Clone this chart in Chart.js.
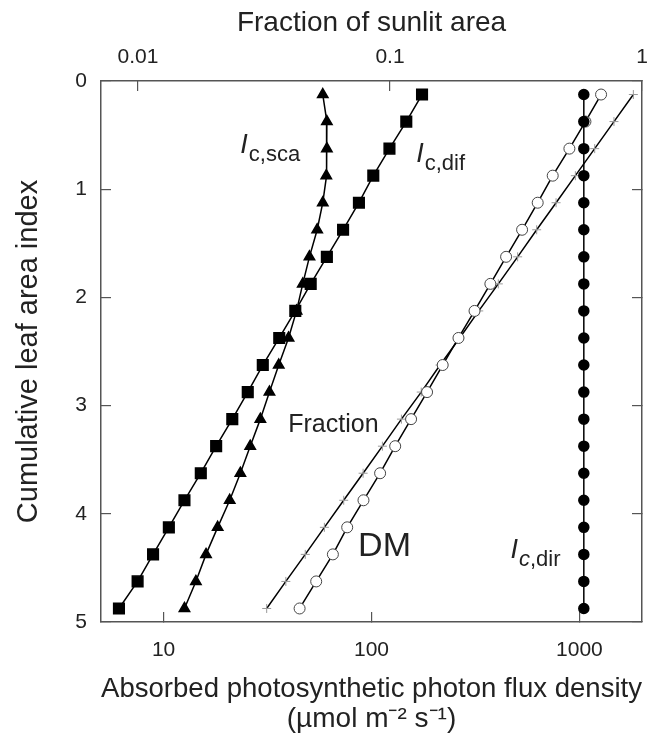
<!DOCTYPE html>
<html lang="en">
<head>
  <meta charset="UTF-8">
  <title>Cumulative leaf area index vs absorbed PPFD</title>
  <script src="https://cdn.jsdelivr.net/npm/chart.js"></script>
  <style>
    body {
      margin: 0;
      padding: 0;
      background-color: white;
    }
    #chart {
      display: block;
    }
  </style>
</head>
<body>
  <canvas id="chart" width="648" height="735"></canvas>

  <script>
    // cumulative leaf area index (y) of each layer
    const lai = [0.125, 0.375, 0.625, 0.875, 1.125, 1.375, 1.625, 1.875, 2.125, 2.375,
                 2.625, 2.875, 3.125, 3.375, 3.625, 3.875, 4.125, 4.375, 4.625, 4.875];

    // absorbed PPFD (umol m-2 s-1)
    const icDir = [1050, 1050, 1050, 1050, 1050, 1050, 1050, 1050, 1050, 1050,
                   1050, 1050, 1050, 1050, 1050, 1050, 1050, 1050, 1050, 1050];
    const dm    = [1271, 1069, 895, 744, 630, 530, 444, 373, 313, 262,
                   220, 185, 155, 130, 110, 91.5, 76.4, 65.2, 54.2, 45.1];
    const icDif = [175, 147, 122, 102, 87, 73, 61, 51, 43, 36,
                   30, 25.4, 21.4, 17.9, 15.1, 12.6, 10.6, 8.9, 7.5, 6.1];
    const icSca = [58.3, 61, 61, 60.6, 58.3, 54.8, 50.3, 46.7, 43.6, 39.9,
                   35.8, 32.3, 29.2, 26.1, 23.4, 20.8, 18.2, 16.0, 14.3, 12.6];

    // fraction of sunlit area
    const sunlit = [0.924, 0.774, 0.649, 0.544, 0.456, 0.382, 0.321, 0.269, 0.225, 0.189,
                    0.158, 0.133, 0.111, 0.0933, 0.0782, 0.0655, 0.0549, 0.0461, 0.0386, 0.0324];

    // axis ticks
    const bottomTicks = [10, 100, 1000];
    const bottomTickLabels = ['10', '100', '1000'];
    const topTicks = [0.01, 0.1, 1];
    const topTickLabels = ['0.01', '0.1', '1'];
    const laiTicks = [0, 1, 2, 3, 4, 5];

    // curve labels, placed in data units (bottom axis value, LAI)
    const curveLabels = [
      { name: 'I', sub: [['c', false], [',sca', false]], x: 23.4, y: 0.665 },
      { name: 'I', sub: [['c', false], [',dif', false]], x: 164, y: 0.75 },
      { name: 'I', sub: [['c', true], [',dir', false]], x: 466, y: 4.41 },
      { text: 'Fraction', size: 25, x: 65.6, y: 3.18 },
      { text: 'DM', size: 34, x: 115.5, y: 4.30 }
    ];

    function toPoints(xs) {
      return xs.map((v, i) => ({ x: v, y: lai[i] }));
    }

    Chart.defaults.font.family = "'Liberation Sans', Arial, sans-serif";
    Chart.defaults.color = '#222';

    const frameColor = '#555';

    // draw the curve names as text on top of the plot
    const labelPlugin = {
      id: 'curveLabels',
      afterDatasetsDraw(chart) {
        const ctx = chart.ctx;
        const xs = chart.scales.x;
        const ys = chart.scales.y;
        ctx.save();
        ctx.fillStyle = '#222';
        ctx.textBaseline = 'alphabetic';
        curveLabels.forEach(l => {
          const px = xs.getPixelForValue(l.x);
          const py = ys.getPixelForValue(l.y);
          if (l.text) {
            ctx.font = l.size + "px 'Liberation Sans', Arial, sans-serif";
            ctx.textAlign = 'center';
            ctx.textBaseline = 'middle';
            ctx.fillText(l.text, px, py);
            ctx.textBaseline = 'alphabetic';
            return;
          }
          ctx.textAlign = 'left';
          ctx.font = "italic 27px 'Liberation Sans', Arial, sans-serif";
          ctx.fillText(l.name, px, py);
          let cx = px + ctx.measureText(l.name).width + 1;
          l.sub.forEach(part => {
            ctx.font = (part[1] ? 'italic ' : '') + "22px 'Liberation Sans', Arial, sans-serif";
            ctx.fillText(part[0], cx, py + 8);
            cx += ctx.measureText(part[0]).width;
          });
        });
        ctx.restore();
      }
    };

    const gridOpts = {
      drawOnChartArea: false,
      drawTicks: true,
      tickLength: -10,
      color: frameColor,
      lineWidth: 1.2
    };
    const borderOpts = { display: true, color: frameColor, width: 1.5 };

    // fixed box sizes so the plot area sits where the original has it
    function fixHeight(h) {
      return s => {
        s.height = h;
        s.paddingLeft = 0;
        s.paddingRight = 0;
      };
    }
    function fixWidth(w) {
      return s => {
        s.width = w;
        s.paddingTop = 0;
        s.paddingBottom = 0;
      };
    }

    new Chart(document.getElementById('chart'), {
      type: 'scatter',
      data: {
        datasets: [
          {
            label: 'Ic,dir',
            data: toPoints(icDir),
            showLine: true,
            borderColor: '#000',
            borderWidth: 1.5,
            pointStyle: 'circle',
            pointRadius: 5,
            pointBackgroundColor: '#000',
            pointBorderColor: '#000',
            xAxisID: 'x',
            yAxisID: 'y'
          },
          {
            label: 'DM',
            data: toPoints(dm),
            showLine: true,
            borderColor: '#000',
            borderWidth: 1.5,
            pointStyle: 'circle',
            pointRadius: 5.5,
            pointBackgroundColor: '#fff',
            pointBorderColor: '#444',
            pointBorderWidth: 1,
            xAxisID: 'x',
            yAxisID: 'y'
          },
          {
            label: 'Fraction',
            data: toPoints(sunlit),
            showLine: true,
            borderColor: '#000',
            borderWidth: 1.5,
            pointStyle: 'cross',
            pointRadius: 4.5,
            pointBorderColor: '#999',
            pointBorderWidth: 1,
            xAxisID: 'xTop',
            yAxisID: 'y'
          },
          {
            label: 'Ic,dif',
            data: toPoints(icDif),
            showLine: true,
            borderColor: '#000',
            borderWidth: 1.5,
            pointStyle: 'rect',
            pointRadius: 7.5,
            pointBackgroundColor: '#000',
            pointBorderColor: '#000',
            xAxisID: 'x',
            yAxisID: 'y'
          },
          {
            label: 'Ic,sca',
            data: toPoints(icSca),
            showLine: true,
            borderColor: '#000',
            borderWidth: 1.5,
            pointStyle: 'triangle',
            pointRadius: 6,
            pointBackgroundColor: '#000',
            pointBorderColor: '#000',
            xAxisID: 'x',
            yAxisID: 'y'
          }
        ]
      },
      options: {
        responsive: false,
        animation: false,
        devicePixelRatio: 1,
        layout: { padding: 0, autoPadding: false },
        plugins: {
          legend: { display: false },
          tooltip: { enabled: false }
        },
        scales: {
          x: {
            type: 'logarithmic',
            position: 'bottom',
            min: 5,
            max: 2000,
            bounds: 'data',
            afterBuildTicks: s => { s.ticks = bottomTicks.map(v => ({ value: v })); },
            afterFit: fixHeight(113),
            grid: gridOpts,
            border: borderOpts,
            ticks: {
              font: { size: 21 },
              padding: 26,
              maxRotation: 0,
              autoSkip: false,
              callback: (v, i) => bottomTickLabels[i]
            },
            title: {
              display: true,
              text: ['Absorbed photosynthetic photon flux density', '(\u00b5mol m\u207b\u00b2 s\u207b\u00b9)'],
              font: { size: 28, lineHeight: 1.1 },
              padding: { top: 0, bottom: 0 }
            }
          },
          xTop: {
            type: 'logarithmic',
            position: 'top',
            min: 0.00713,
            max: 1,
            bounds: 'data',
            afterBuildTicks: s => { s.ticks = topTicks.map(v => ({ value: v })); },
            afterFit: fixHeight(81),
            grid: gridOpts,
            border: borderOpts,
            ticks: {
              font: { size: 21 },
              padding: 21,
              maxRotation: 0,
              autoSkip: false,
              callback: (v, i) => topTickLabels[i]
            },
            title: {
              display: true,
              text: 'Fraction of sunlit area',
              font: { size: 28, lineHeight: 1.1 },
              padding: { top: 8, bottom: 0 }
            }
          },
          y: {
            type: 'linear',
            position: 'left',
            reverse: true,
            min: 0,
            max: 5,
            afterBuildTicks: s => { s.ticks = laiTicks.map(v => ({ value: v })); },
            afterFit: fixWidth(101),
            grid: gridOpts,
            border: borderOpts,
            ticks: {
              font: { size: 21 },
              padding: 24,
              callback: v => String(v)
            },
            title: {
              display: true,
              text: 'Cumulative leaf area index',
              font: { size: 29, lineHeight: 1.1 },
              padding: { top: 13, bottom: 0 }
            }
          },
          y2: {
            type: 'linear',
            position: 'right',
            reverse: true,
            min: 0,
            max: 5,
            afterBuildTicks: s => { s.ticks = laiTicks.map(v => ({ value: v })); },
            afterFit: fixWidth(6),
            grid: gridOpts,
            border: borderOpts,
            ticks: { display: false }
          }
        }
      },
      plugins: [labelPlugin]
    });
  </script>
</body>
</html>
